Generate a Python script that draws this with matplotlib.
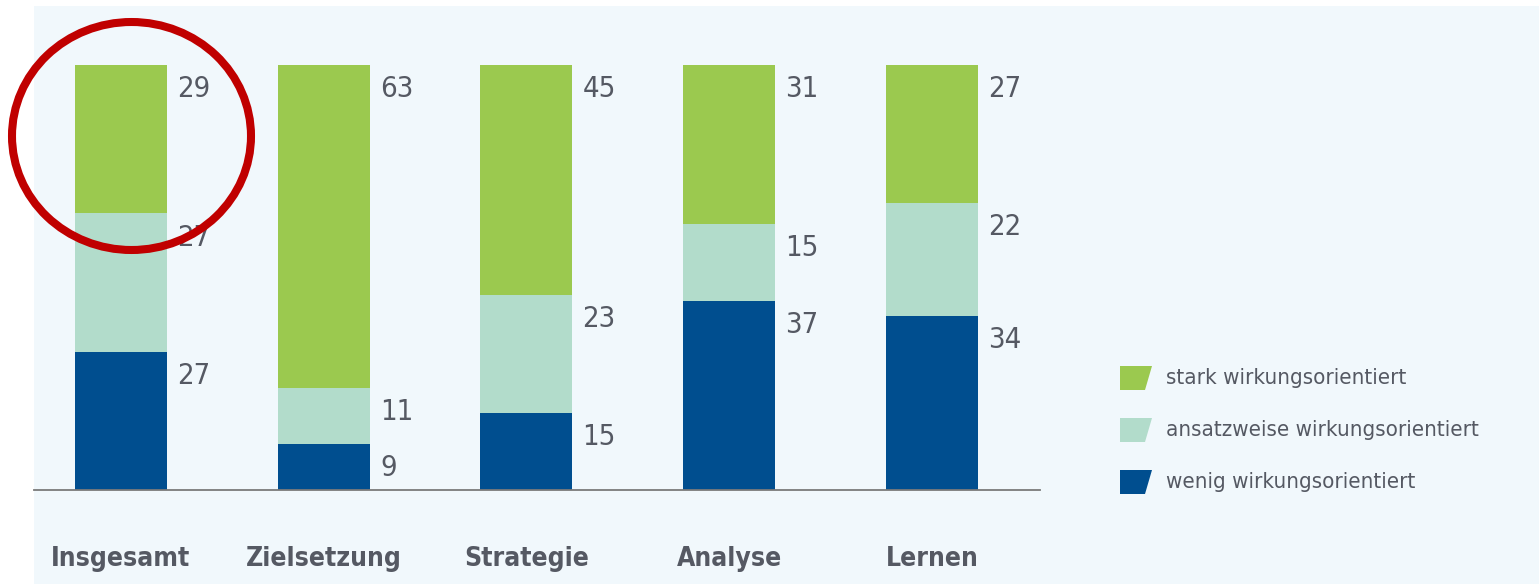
import numpy as np
import matplotlib
matplotlib.use('Agg')
import matplotlib.pyplot as plt
from matplotlib.patches import Polygon, Ellipse

# -------------------------------------------------------------------------------------------------------
categories = ['Insgesamt', 'Zielsetzung', 'Strategie', 'Analyse', 'Lernen']
wenig = [27, 9, 15, 37, 34]
ansatz = [27, 11, 23, 15, 22]
stark = [29, 63, 45, 31, 27]
legend_labels = ['stark wirkungsorientiert', 'ansatzweise wirkungsorientiert', 'wenig wirkungsorientiert']

c_stark = '#9bc94f'
c_ansatz = '#b2dccb'
c_wenig = '#004e8f'
c_text = '#555963'
c_bg = '#f1f8fc'

W, H = 1539, 584


def fx(px):
    return px / W


def fy(py):
    return 1 - py / H


# -------------------------------------------------------------------------------------------------------
def main():
    plt.rcParams['font.family'] = ['DejaVu Sans']
    plt.rcParams['font.stretch'] = 'condensed'
    fig = plt.figure(figsize=(W / 100, H / 100), dpi=100)
    fig.patch.set_facecolor('white')

    # light panel behind everything
    bg = fig.add_axes([fx(34), 0, 1 - fx(34), fy(6)])
    bg.set_axis_off()
    bg.add_patch(plt.Rectangle((0, 0), 1, 1, transform=bg.transAxes, facecolor=c_bg, edgecolor='none'))
    bg.set_zorder(0)

    ax = fig.add_axes([fx(34), fy(490), fx(1040) - fx(34), fy(65) - fy(490)])
    ax.set_zorder(1)
    ax.set_facecolor('none')
    x = np.arange(len(categories))
    w = 0.454
    b1 = np.array(wenig)
    b2 = b1 + np.array(ansatz)
    ax.bar(x, wenig, w, color=c_wenig, zorder=2)
    ax.bar(x, ansatz, w, bottom=b1, color=c_ansatz, zorder=2)
    ax.bar(x, stark, w, bottom=b2, color=c_stark, zorder=2)

    for i in range(len(x)):
        for top, val in [(b1[i], wenig[i]), (b2[i], ansatz[i]), (b2[i] + stark[i], stark[i])]:
            ax.text(x[i] + w / 2 + 0.05, top - 4.7, str(val), ha='left', va='center',
                    fontsize=21, color=c_text)

    ax.set_xlim(-0.429, 4.533)
    ax.set_ylim(0, 83)
    for s in ['top', 'right', 'left']:
        ax.spines[s].set_visible(False)
    ax.spines['bottom'].set_color('#7a7a7a')
    ax.spines['bottom'].set_linewidth(1.3)
    ax.set_yticks([])
    ax.set_xticks(x, categories)
    ax.tick_params(axis='x', length=0, pad=40, labelsize=19, labelcolor=c_text)
    for lab in ax.get_xticklabels():
        lab.set_fontweight('bold')

    # legend
    colors = [c_stark, c_ansatz, c_wenig]
    for k, (lab, col) in enumerate(zip(legend_labels, colors)):
        yc = 378 + 52 * k
        pts = [(fx(1120), fy(yc - 12)), (fx(1152), fy(yc - 12)), (fx(1145), fy(yc + 12)), (fx(1120), fy(yc + 12))]
        fig.patches.append(Polygon(pts, closed=True, transform=fig.transFigure,
                                   facecolor=col, edgecolor='none'))
        fig.text(fx(1166), fy(yc), lab, ha='left', va='center', fontsize=16, color=c_text)

    # red circle
    ring = Ellipse((fx(131.5), fy(136)), fx(239), 228 / H, transform=fig.transFigure,
                   facecolor='none', edgecolor='#c00000', linewidth=5.8, clip_on=False)
    ax.add_artist(ring)
    ring.set_zorder(10)

    fig.savefig('out.png', dpi=100)


if __name__ == '__main__':
    main()
